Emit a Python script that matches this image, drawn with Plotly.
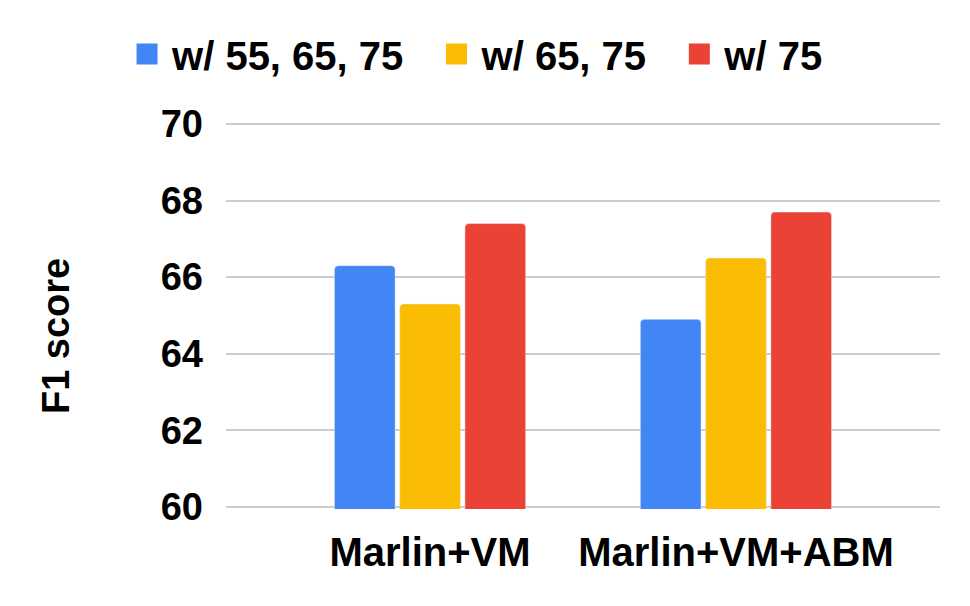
import plotly.graph_objects as go

# data
categories = ["Marlin+VM", "Marlin+VM+ABM"]
series_names = ["w/ 55, 65, 75", "w/ 65, 75", "w/ 75"]
f1_55_65_75 = [66.3, 64.9]
f1_65_75 = [65.3, 66.5]
f1_75 = [67.4, 67.7]
y_ticks = [60, 62, 64, 66, 68, 70]
y_title = "F1 score"

colors = ["#4285F4", "#FBBC04", "#EA4335"]
font_family = "Liberation Sans, Arial, sans-serif"
NBSP = "\u00a0"

fig = go.Figure()
for name, vals, col in zip(series_names, [f1_55_65_75, f1_65_75, f1_75], colors):
    fig.add_trace(
        go.Bar(
            x=categories,
            y=vals,
            name=name,
            marker=dict(color=col),
            showlegend=False,
        )
    )

# legend entries: square markers give bigger swatches than the bar legend symbol
for i, (name, col) in enumerate(zip(series_names, colors)):
    pad = NBSP * 2 if i < len(series_names) - 1 else ""
    fig.add_trace(
        go.Scatter(
            x=[None],
            y=[None],
            mode="markers",
            name=name + pad,
            marker=dict(symbol="square", size=16, color=col, line=dict(color=col, width=5)),
            showlegend=True,
        )
    )

# page has an 8px body offset, so margins are shifted to compensate
fig.update_layout(
    width=970,
    height=606,
    margin=dict(l=218, r=38, t=114, b=105),
    paper_bgcolor="white",
    plot_bgcolor="white",
    barmode="group",
    bargap=0.36,
    bargroupgap=0.07,
    barcornerradius=4,
    font=dict(family=font_family, size=38, color="#000000", weight="bold"),
    legend=dict(
        orientation="h",
        xref="container",
        yref="container",
        x=0.482,
        xanchor="center",
        y=1 - 46 / 606,
        yanchor="middle",
        font=dict(size=40, weight="bold"),
        itemwidth=40,
        traceorder="normal",
    ),
    showlegend=True,
    annotations=[
        dict(
            text=y_title,
            textangle=-90,
            xref="paper",
            yref="paper",
            x=-0.238,
            y=0.447,
            xanchor="center",
            yanchor="middle",
            showarrow=False,
            font=dict(size=38, weight="bold", color="#000000"),
        )
    ],
)

fig.update_xaxes(
    range=[-0.667, 1.667],
    showgrid=False,
    showline=False,
    zeroline=False,
    ticklabelstandoff=16,
    tickfont=dict(size=40, weight="bold"),
)
fig.update_yaxes(
    range=[59.95, 70.05],
    tickvals=y_ticks,
    showgrid=True,
    gridcolor="#cccccc",
    gridwidth=2,
    zeroline=False,
    showline=False,
    ticklabelstandoff=22,
    tickfont=dict(size=38, weight="bold"),
)

fig.write_html("out.html")
